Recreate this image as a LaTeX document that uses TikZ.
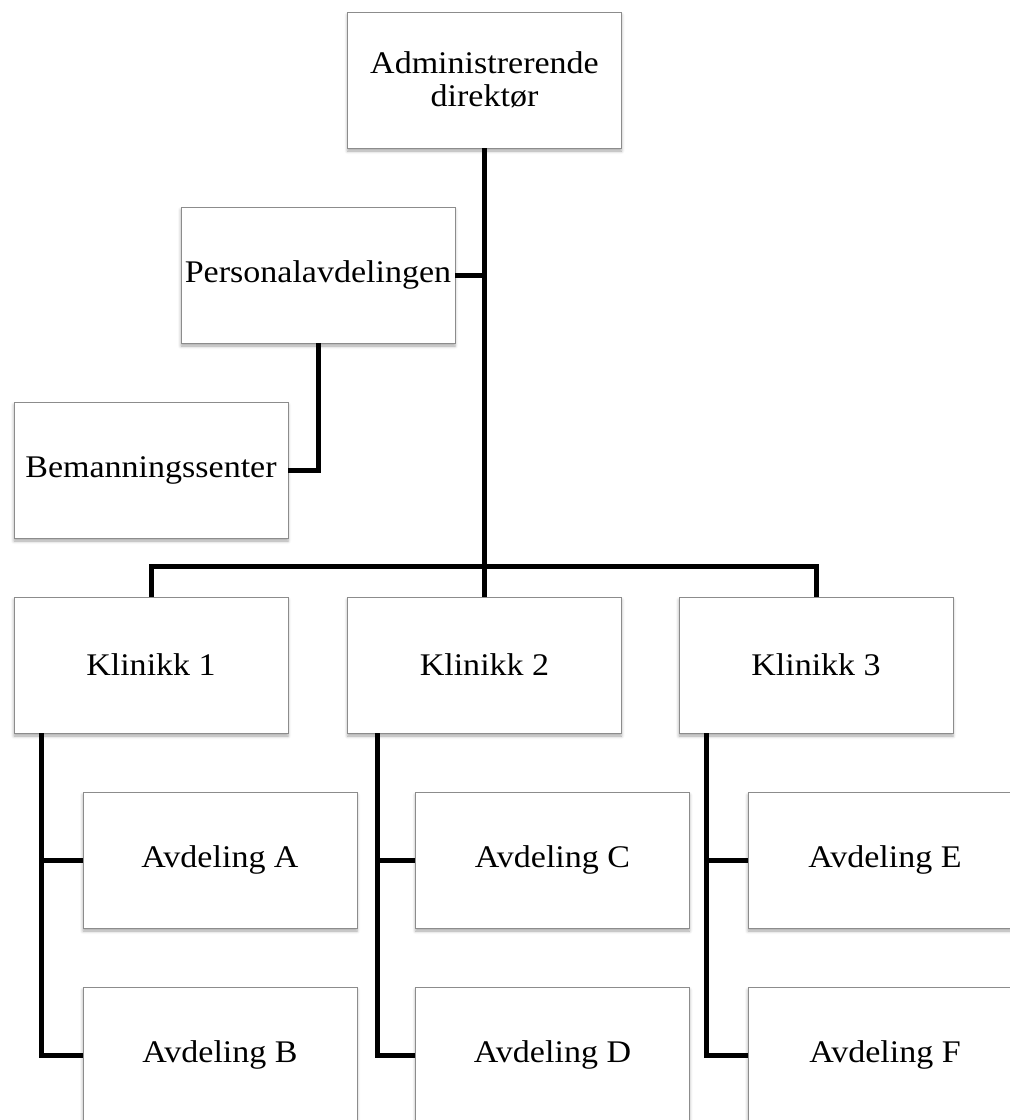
\documentclass[tikz,border=0pt]{standalone}
\usepackage{fontspec}
\setmainfont[FakeStretch=1.08]{Liberation Serif}
\usetikzlibrary{shadows.blur,calc}
\begin{document}
\begin{tikzpicture}[x=1pt,y=-1pt,
  box/.style={draw=black!45, line width=0.9pt, fill=white,
    minimum width=274pt, minimum height=136pt, inner sep=0pt,
    align=center, font=\fontsize{31.5}{33}\selectfont,
    blur shadow={shadow xshift=0pt, shadow yshift=-3pt,
      shadow blur radius=3pt, shadow opacity=35}},
  conn/.style={line width=5pt, black}]
\useasboundingbox (0,0) rectangle (1010,1120);
\clip (0,0) rectangle (1010,1120);

% top management and staff units
\node[box] (adm) at (484.5,80) {Administrerende\\direktør};
\node[box] (pers) at (318,275) {Personalavdelingen};
\node[box] (bem) at (151,470) {Bemanningssenter};

% clinics
\node[box] (k1) at (151,665) {Klinikk 1};
\node[box] (k2) at (484.5,665) {Klinikk 2};
\node[box] (k3) at (816,665) {Klinikk 3};

% departments
\node[box] (avA) at (220,860) {Avdeling A};
\node[box] (avB) at (220,1055) {Avdeling B};
\node[box] (avC) at (552.5,860) {Avdeling C};
\node[box] (avD) at (552.5,1055) {Avdeling D};
\node[box] (avE) at (885,860) {Avdeling E};
\node[box] (avF) at (885,1055) {Avdeling F};

% branch points below each clinic
\coordinate (b1) at ($(k1.south west)+(28,0)$);
\coordinate (b2) at ($(k2.south west)+(30,0)$);
\coordinate (b3) at ($(k3.south west)+(28,0)$);

% connectors
\draw[conn] (adm.south) -- (k2.north);
\draw[conn] (pers.east) -- (adm.south |- pers.east);
\draw[conn] (pers.south) |- (bem.east);
\draw[conn] (k1.north) -- ++(0,-30) -| (k3.north);

\draw[conn] (b1) |- (avA.west);
\draw[conn] (b1) |- (avB.west);
\draw[conn] (b2) |- (avC.west);
\draw[conn] (b2) |- (avD.west);
\draw[conn] (b3) |- (avE.west);
\draw[conn] (b3) |- (avF.west);
\end{tikzpicture}
\end{document}
